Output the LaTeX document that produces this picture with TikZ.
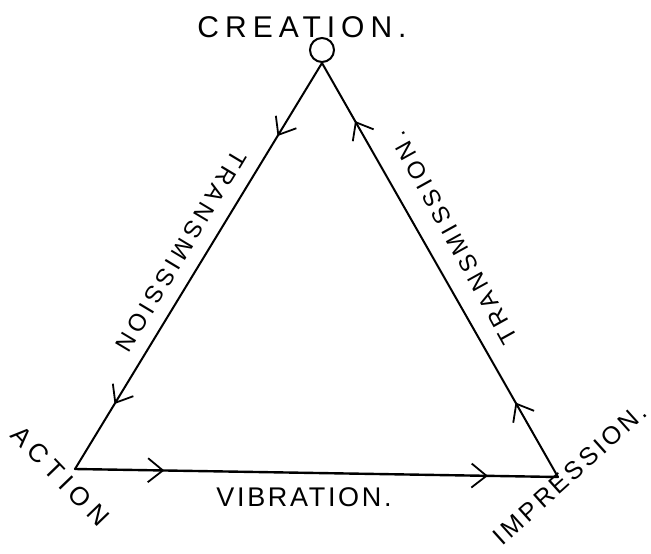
\documentclass[tikz,border=0pt]{standalone}
\usepackage{fontspec}
\newfontfamily\hand{Liberation Sans}
\usetikzlibrary{arrows.meta,decorations.markings}
\tikzset{
  edge/.style={line width=2pt, line cap=round},
  flow/.style={postaction={decorate,decoration={markings,
     mark=at position #1 with {\arrow{Straight Barb[length=15pt,width=24pt,line width=1.8pt]}}}}},
  lbl/.style={inner sep=0pt, font=\hand},
}
\begin{document}
\begin{tikzpicture}[x=1pt,y=-1pt]
\useasboundingbox (0,0) rectangle (651,554);
\fill[white] (0,0) rectangle (651,554);
% vertices
\node[circle, draw, line width=2pt, minimum size=24pt, inner sep=0pt] (cre) at (322,50) {};
\coordinate (act) at (75,469);
\coordinate (imp) at (558,477);
% edges
\draw[edge, flow=0.18, flow=0.84] (cre.south) -- (act);
\draw[edge, line width=2.4pt, flow=0.185, flow=0.855] (act) -- (imp);
\draw[edge, flow=0.18, flow=0.86] (imp) -- (cre.south);
% labels
\node[lbl, font=\hand\fontsize{30}{32}\selectfont\addfontfeature{LetterSpace=20}] (tcre) at (302,27) {CREATION.};
\node[lbl, font=\hand\fontsize{27}{29}\selectfont\addfontfeature{LetterSpace=10}] (tvib) at (304,497) {VIBRATION.};
\node[lbl, rotate=-46, font=\hand\fontsize{26}{28}\selectfont\addfontfeature{LetterSpace=23}] (tact) at (60,476) {ACTION};
\node[lbl, rotate=42, font=\hand\fontsize{25}{27}\selectfont\addfontfeature{LetterSpace=13}] (timp) at (570,474) {IMPRESSION.};
\node[lbl, rotate=239, font=\hand\fontsize{24}{26}\selectfont\addfontfeature{LetterSpace=18}] (ttl) at (181,251) {TRANSMISSION};
\node[lbl, rotate=119, font=\hand\fontsize{24}{26}\selectfont\addfontfeature{LetterSpace=17}] (ttr) at (454,238) {TRANSMISSION.};
\end{tikzpicture}
\end{document}
